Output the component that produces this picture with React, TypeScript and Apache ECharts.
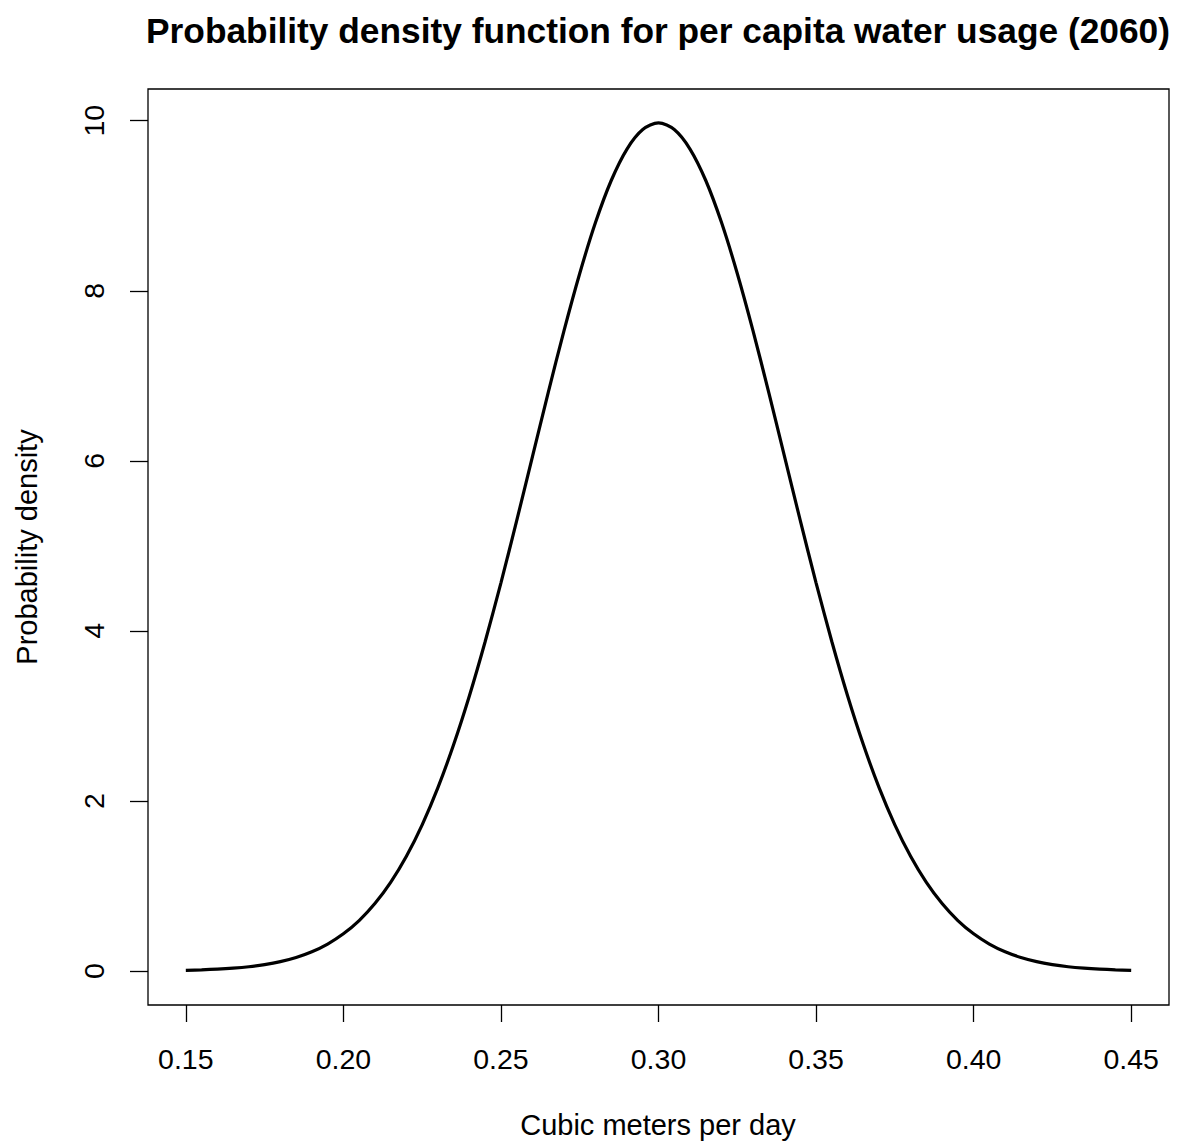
import React, { useEffect, useRef } from "react";
import * as echarts from "echarts";

const xValues = [
  0.15, 0.155, 0.16, 0.165, 0.17, 0.175, 0.18, 0.185, 0.19, 0.195, 0.2, 0.205, 0.21, 0.215, 0.22, 0.225,
  0.23, 0.235, 0.24, 0.245, 0.25, 0.255, 0.26, 0.265, 0.27, 0.275, 0.28, 0.285, 0.29, 0.295, 0.3,
  0.305, 0.31, 0.315, 0.32, 0.325, 0.33, 0.335, 0.34, 0.345, 0.35, 0.355, 0.36, 0.365, 0.37, 0.375,
  0.38, 0.385, 0.39, 0.395, 0.4, 0.405, 0.41, 0.415, 0.42, 0.425, 0.43, 0.435, 0.44, 0.445, 0.45,
];
const densityValues = [
  0.009, 0.014, 0.022, 0.034, 0.051, 0.076, 0.111, 0.16, 0.227, 0.318, 0.438, 0.594, 0.794, 1.043, 1.35, 1.72,
  2.157, 2.664, 3.238, 3.876, 4.566, 5.297, 6.049, 6.802, 7.529, 8.204, 8.802, 9.297, 9.667, 9.896, 9.974,
  9.896, 9.667, 9.297, 8.802, 8.204, 7.529, 6.802, 6.049, 5.297, 4.566, 3.876, 3.238, 2.664, 2.157, 1.72,
  1.35, 1.043, 0.794, 0.594, 0.438, 0.318, 0.227, 0.16, 0.111, 0.076, 0.051, 0.034, 0.022, 0.014, 0.009,
];
const xTicks = [0.15, 0.2, 0.25, 0.3, 0.35, 0.4, 0.45];
const yTicks = [0, 2, 4, 6, 8, 10];

const titleText = "Probability density function for per capita water usage (2060)";
const xLabel = "Cubic meters per day";
const yLabel = "Probability density";

const FONT = "'Liberation Sans', Arial, Helvetica, sans-serif";

export default function App() {
  const ref = useRef<HTMLDivElement>(null);
  useEffect(() => {
    if (!ref.current) return;
    const chart = echarts.init(ref.current, undefined, { renderer: "svg" });
    const data = xValues.map((x, i) => [x, densityValues[i]]);
    chart.setOption({
      animation: false,
      backgroundColor: "#ffffff",
      grid: {
        left: 148,
        right: 8,
        top: 89,
        bottom: 142,
        show: true,
        borderColor: "#000",
        borderWidth: 1.3,
        backgroundColor: "transparent",
      },
      xAxis: {
        type: "value",
        min: 0.138,
        max: 0.462,
        axisLine: { show: false, onZero: false },
        splitLine: { show: false },
        axisTick: {
          show: true,
          inside: false,
          length: 17,
          customValues: xTicks,
          lineStyle: { color: "#000", width: 1.3 },
        },
        axisLabel: {
          customValues: xTicks,
          formatter: (v: number) => v.toFixed(2),
          color: "#000",
          fontSize: 28.5,
          fontFamily: FONT,
          margin: 39,
        },
      },
      yAxis: {
        type: "value",
        min: -0.399,
        max: 10.373,
        axisLine: { show: false, onZero: false },
        splitLine: { show: false },
        axisTick: {
          show: true,
          inside: false,
          length: 18,
          customValues: yTicks,
          lineStyle: { color: "#000", width: 1.3 },
        },
        axisLabel: {
          customValues: yTicks,
          rotate: 90,
          color: "#000",
          fontSize: 28.5,
          fontFamily: FONT,
          margin: 40,
        },
      },
      graphic: [
        {
          type: "text",
          x: 658,
          y: 30,
          style: {
            text: titleText,
            fontSize: 35.3,
            fontWeight: "bold",
            fontFamily: FONT,
            fill: "#000",
            textAlign: "center",
            textVerticalAlign: "middle",
          },
        },
        {
          type: "text",
          x: 658,
          y: 1125,
          style: {
            text: xLabel,
            fontSize: 29,
            fontFamily: FONT,
            fill: "#000",
            textAlign: "center",
            textVerticalAlign: "middle",
          },
        },
        {
          type: "text",
          x: 27,
          y: 547,
          rotation: Math.PI / 2,
          style: {
            text: yLabel,
            fontSize: 29,
            fontFamily: FONT,
            fill: "#000",
            textAlign: "center",
            textVerticalAlign: "middle",
          },
        },
      ],
      series: [
        {
          type: "line",
          data,
          smooth: 0.3,
          showSymbol: false,
          lineStyle: { color: "#000", width: 3.2 },
          clip: false,
        },
      ],
    });
    return () => chart.dispose();
  }, []);
  return (
    <div
      ref={ref}
      style={{ position: "absolute", left: 0, top: 0, width: 1177, height: 1147 }}
    />
  );
}
